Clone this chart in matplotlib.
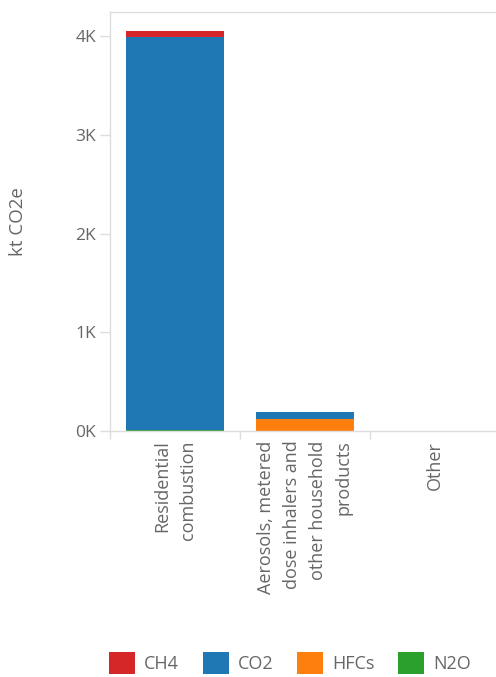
import matplotlib
matplotlib.use("Agg")
import matplotlib.pyplot as plt
from matplotlib.patches import Patch
from matplotlib.ticker import FuncFormatter

categories = ["Residential\ncombustion",
              "Aerosols, metered\ndose inhalers and\nother household\nproducts",
              "Other"]
# stacking order bottom -> top
n2o = [15, 0, 0]
hfcs = [0, 120, 0]
co2 = [3980, 75, 0]
ch4 = [60, 0, 0]

series = [("N2O", n2o, "#2ca02c"), ("HFCs", hfcs, "#ff7f0e"),
          ("CO2", co2, "#1f77b4"), ("CH4", ch4, "#d62728")]
legend_order = ["CH4", "CO2", "HFCs", "N2O"]

plt.rcParams['font.family'] = ["Open Sans", "DejaVu Sans"]
txt = "#666666"
line = "#dddddd"

fig = plt.figure(figsize=(4.96, 6.77), dpi=100)
ax = fig.add_axes([110/496, (677-431)/677, 390/496, (431-12)/677])

x = list(range(len(categories)))
bottom = [0]*len(categories)
colors = {}
for name, vals, col in series:
    ax.bar(x, vals, bottom=bottom, width=0.75, color=col, linewidth=0)
    bottom = [b+v for b, v in zip(bottom, vals)]
    colors[name] = col

ax.set_xlim(-0.5, 2.5)
ax.set_ylim(0, 4245)
ax.set_yticks([0, 1000, 2000, 3000, 4000])
ax.yaxis.set_major_formatter(FuncFormatter(lambda v, p: f"{int(v/1000)}K"))
ax.tick_params(axis='y', length=7, width=1, color=line, pad=3, labelsize=12.5, labelcolor=txt)

ax.set_xticks([-0.5, 0.5, 1.5, 2.5])
ax.set_xticklabels([])
ax.tick_params(axis='x', which='major', length=6, width=1, color=line, direction='out')
ax.set_xticks(x, minor=True)
ax.set_xticklabels(categories, minor=True, rotation=90, ha='center', va='top',
                   multialignment='right', fontsize=13, color=txt, linespacing=1.55)
ax.tick_params(axis='x', which='minor', length=0, pad=7)

for s in ["left", "top", "bottom"]:
    ax.spines[s].set_color(line)
    ax.spines[s].set_linewidth(1)
ax.spines["right"].set_visible(False)

ax.set_ylabel("kt CO2e", color=txt, fontsize=13.5)
ax.yaxis.set_label_coords((27 - 110) / 390, 0.5)

handles = [Patch(facecolor=colors[n], edgecolor='none') for n in legend_order]
fig.legend(handles, legend_order, loc='center', bbox_to_anchor=(290/496, 1-663/677),
           ncol=4, frameon=False, fontsize=13, labelcolor=txt,
           handlelength=1.45, handleheight=1.45, handletextpad=0.5, columnspacing=1.3)

fig.savefig("out.png", dpi=100)
